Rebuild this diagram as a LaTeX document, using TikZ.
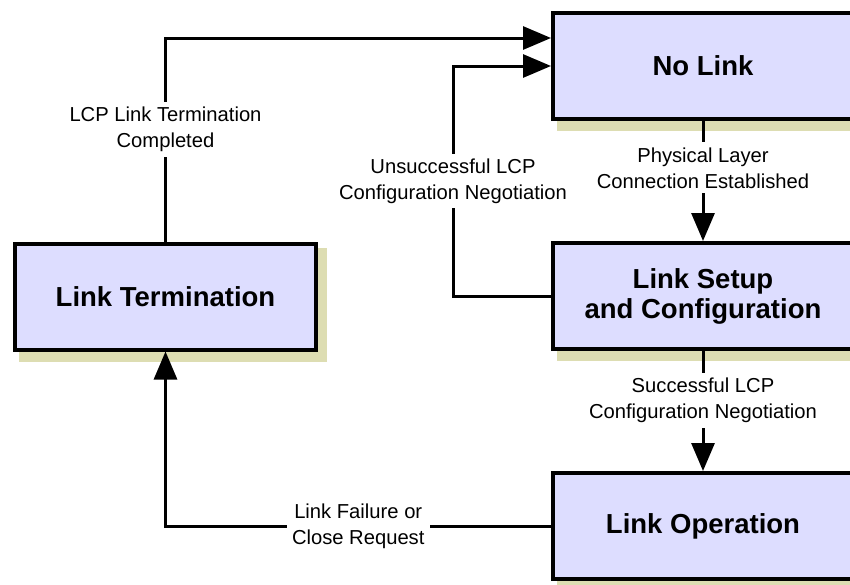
\documentclass[tikz,border=0pt]{standalone}
\usepackage{fontspec}
\setmainfont{Liberation Sans}
\usetikzlibrary{arrows.meta,backgrounds}
\definecolor{boxfill}{RGB}{221,221,255}
\definecolor{shadowc}{RGB}{221,221,178}

\begin{document}
\begin{tikzpicture}[x=1pt,y=-1pt,
    state/.style={draw,line width=4pt,fill=boxfill,minimum width=300pt,minimum height=106pt,
      align=center,font=\bfseries\fontsize{27.5}{30}\selectfont},
    conn/.style={line width=3pt,-{Triangle[length=28pt,width=23pt]}},
    lbl/.style={fill=white,inner sep=5pt,align=center,font=\fontsize{20.2}{26}\selectfont}]
    \useasboundingbox (0,0) rectangle (850,584);
    \node[state] (nolink) at (703,66) {No Link};
    \node[state] (setup) at (703,296) {Link Setup\\and Configuration};
    \node[state] (oper) at (703,526) {Link Operation};
    \node[state,minimum width=301pt] (term) at (165.5,296.5) {Link Termination};
    \begin{scope}[on background layer]
      \foreach \b in {nolink,setup,oper,term}
        \fill[shadowc] ([xshift=6pt,yshift=-6pt]\b.north west) rectangle ([xshift=9pt,yshift=-10pt]\b.south east);
    \end{scope}
    \coordinate (nlin) at ([yshift=28pt]nolink.west);
    \coordinate (loopx) at (453,0);
    \draw[conn] (nolink.south) -- node[lbl,pos=.39] (physlbl) {Physical Layer\\Connection Established} (setup.north);
    \draw[conn] (setup.south) -- node[lbl,pos=.41] (oklbl) {Successful LCP\\Configuration Negotiation} (oper.north);
    \draw[conn] (oper.west) -- node[lbl] (faillbl) {Link Failure or\\Close Request} (oper.west -| term.south) -- (term.south);
    \draw[conn] (term.north) -- node[lbl,pos=.55] (termlbl) {LCP Link Termination\\Completed} (term.north |- nlin) -- (nlin);
    \draw[conn] (setup.west) -- (setup.west -| loopx) -- node[lbl] (badlbl) {Unsuccessful LCP\\Configuration Negotiation} (nolink.west -| loopx) -- (nolink.west);
\end{tikzpicture}
\end{document}
